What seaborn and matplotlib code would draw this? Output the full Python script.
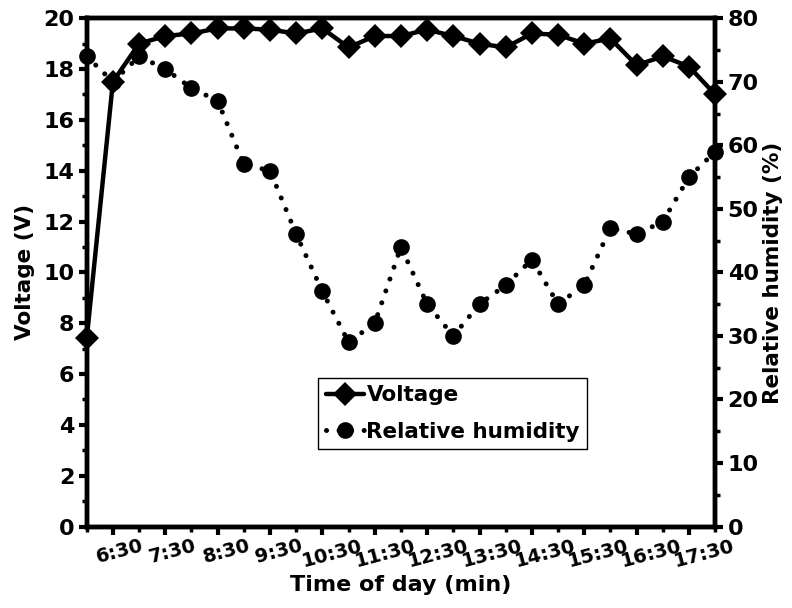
import matplotlib
matplotlib.use("Agg")
import matplotlib.pyplot as plt
import matplotlib.transforms as mtransforms
from matplotlib.lines import Line2D
import seaborn as sns
import pandas as pd

sns.set_theme(style="white")
plt.rcParams["font.family"] = ["DejaVu Sans"]
plt.rcParams["font.weight"] = "bold"
for key in ("text.color", "axes.labelcolor", "xtick.color", "ytick.color"):
    plt.rcParams[key] = "black"

# half-hour readings, 6:00 onwards
slot = list(range(25))
voltage = [7.4, 17.5, 19.0, 19.3, 19.4, 19.6, 19.6, 19.55, 19.4, 19.6, 18.85, 19.3,
           19.3, 19.55, 19.3, 19.0, 18.85, 19.4, 19.35, 19.0, 19.2, 18.15, 18.5, 18.1, 17.0]
humidity = [74, 70, 74, 72, 69, 67, 57, 56, 46, 37, 29, 32,
            44, 35, 30, 35, 38, 42, 35, 38, 47, 46, 48, 55, 59]
tick_slots = [1, 3, 5, 7, 9, 11, 13, 15, 17, 19, 21, 23]
tick_labels = ["6:30", "7:30", "8:30", "9:30", "10:30", "11:30",
               "12:30", "13:30", "14:30", "15:30", "16:30", "17:30"]

df = pd.DataFrame({"slot": slot, "voltage": voltage, "humidity": humidity})

fig = plt.figure(figsize=(7.92, 6.08), dpi=100)
ax = fig.add_axes([0.1095, 0.134, 0.7935, 0.836])
ax2 = ax.twinx()

dots = (0, (0.01, 2.5))
sns.lineplot(data=df, x="slot", y="voltage", ax=ax, color="black", lw=3.2,
             marker="D", markersize=12.5, markeredgewidth=0, clip_on=False, zorder=3)
sns.lineplot(data=df, x="slot", y="humidity", ax=ax2, color="black", lw=3.6,
             linestyle=dots, dash_capstyle="round",
             marker="o", markersize=12, markeredgewidth=0, clip_on=False, zorder=3)

ax.set_xlim(0, 24)
ax.set_ylim(0, 20)
ax2.set_ylim(0, 80)
ax.set_yticks(range(0, 21, 2))
ax.set_yticks(range(1, 20, 2), minor=True)
ax2.set_yticks(range(0, 81, 10))
ax2.set_yticks(range(5, 80, 10), minor=True)
ax.set_xticks(tick_slots)
ax.set_xticklabels(tick_labels, rotation=15, ha="center")
ax.set_xticks(range(0, 25, 2), minor=True)

for a in (ax, ax2):
    for s in a.spines.values():
        s.set_linewidth(3.2)
        s.set_color("black")
    a.tick_params(which="major", length=6, width=3, labelsize=16, pad=3, color="black")
    a.tick_params(which="minor", length=3.5, width=2.5, color="black")
ax.tick_params(axis="x", which="both", bottom=True, direction="out")
ax.tick_params(axis="y", which="both", left=True, direction="out")
ax2.tick_params(axis="y", which="both", right=True, direction="out")
ax.tick_params(axis="x", labelsize=14, pad=1)

# labels in the original drift slightly right of their ticks
for i, lab in enumerate(ax.get_xticklabels()):
    shift = mtransforms.ScaledTranslation((7 + i * 0.75) / 100, 0, fig.dpi_scale_trans)
    lab.set_transform(lab.get_transform() + shift)

ax.set_xlabel("Time of day (min)", fontsize=16, fontweight="bold", labelpad=3)
ax.set_ylabel("Voltage (V)", fontsize=15.5, fontweight="bold", labelpad=6)
ax2.set_ylabel("Relative humidity (%)", fontsize=15.5, fontweight="bold", labelpad=3)
ax.grid(False)
ax2.grid(False)

handles = [
    Line2D([], [], color="black", lw=3.2, marker="D", markersize=12.5, markeredgewidth=0),
    Line2D([], [], color="black", lw=3.6, linestyle=dots, dash_capstyle="round",
           marker="o", markersize=12, markeredgewidth=0),
]
leg = ax2.legend(handles, ["Voltage", "Relative humidity"], loc="upper left",
                 bbox_to_anchor=(0.368, 0.2925), frameon=True, fancybox=False,
                 edgecolor="black", handlelength=1.8, handletextpad=0.1,
                 borderpad=0.35, borderaxespad=0, labelspacing=0.75,
                 prop={"size": 15.5, "weight": "bold"})
leg.get_frame().set_linewidth(1)
leg.get_frame().set_alpha(1)

fig.savefig("out.png", dpi=100)
